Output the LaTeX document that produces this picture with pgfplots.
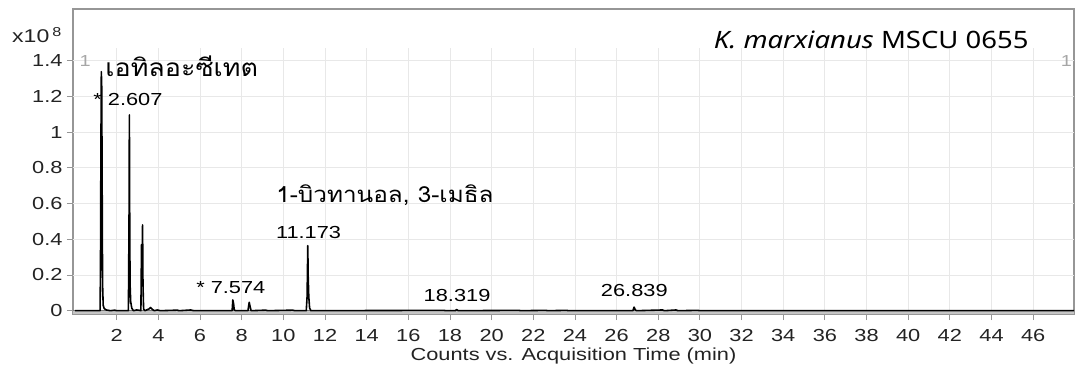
\documentclass[border=0pt]{standalone}
\usepackage{pgfplots}
\pgfplotsset{compat=1.18}
\usepackage{fontspec}
\setmainfont{Liberation Sans}[FakeStretch=1.25]
\newfontfamily\thaifont[Script=Thai,FakeStretch=1.1]{Loma}
\newfontfamily\titlefont[FakeStretch=1.15]{Noto Sans}
\definecolor{gridgray}{RGB}{232,232,232}
\definecolor{framegray}{RGB}{150,150,150}
\definecolor{txt}{RGB}{35,35,35}

% Total ion chromatogram, intensities in units of 10^8 counts
\pgfplotstableread{
t      c
0.00   0
1.20   0
1.22   0.25
1.24   0.90
1.26   1.338
1.28   1.25
1.30   0.70
1.32   0.15
1.35   0.03
1.40   0.012
1.50   0.004
1.70   0
1.90   0.003
2.00   0
2.56   0
2.59   0.50
2.607  1.096
2.62   0.60
2.64   0.15
2.67   0.05
2.72   0.015
2.80   0
2.95   0.004
3.05   0.003
3.16   0
3.19   0.37
3.21   0.22
3.24   0.48
3.26   0.15
3.29   0.01
3.35   0
3.55   0.01
3.62   0.018
3.70   0.008
3.80   0
3.95   0.004
4.10   0
4.90   0.003
5.00   0
5.55   0.004
5.70   0
7.54   0
7.574  0.060
7.61   0.040
7.64   0.005
7.70   0
8.30   0
8.36   0.047
8.40   0.025
8.45   0
9.15   0.003
9.25   0
10.45  0.003
10.55  0
11.10  0
11.14  0.08
11.173 0.364
11.19  0.20
11.22  0.08
11.26  0.015
11.32  0
17.70  0.002
17.80  0
18.25  0
18.319 0.006
18.40  0
21.30  0.002
21.40  0
22.60  0.002
22.70  0
23.60  0.002
23.70  0
26.78  0
26.839 0.020
26.90  0.004
26.96  0
28.20  0.004
28.30  0
28.85  0.004
28.95  0
29.90  0.002
30.00  0
47.96  0
}\tic

\begin{document}
\begin{tikzpicture}
\begin{axis}[
  scale only axis,
  width=1001bp, height=305bp,
  xmin=-0.1, xmax=47.96,
  ymin=-0.0185, ymax=1.689,
  clip=false,
  axis line style={framegray, line width=1.3bp},
  xtick={2,4,...,46},
  ytick={0,0.2,0.4,0.6,0.8,1,1.2,1.4},
  yticklabels={0,0.2,0.4,0.6,0.8,1,1.2,1.4},
  xtick pos=bottom, ytick pos=left,
  tick align=outside,
  major tick length=6bp,
  tick style={framegray, line width=0.9bp},
  /pgf/number format/assume math mode=true,
  ticklabel style={font=\fontsize{17.5}{20}\selectfont, text=txt},
  xticklabel style={yshift=-6bp},
  yticklabel style={xshift=-1bp},
  xlabel={Counts vs. Acquisition Time (min)},
  xlabel style={font=\fontsize{17.5}{20}\selectfont, text=txt, at={(axis description cs:0.5,0)}, anchor=base, yshift=-46bp},
]
% light grid, confined below the title band
\pgfplotsinvokeforeach{2,4,...,46}{
  \draw[gridgray, line width=0.9bp] (axis cs:#1,-0.0185) -- (axis cs:#1,1.47);
}
\pgfplotsinvokeforeach{0.2,0.4,0.6,0.8,1.0,1.2,1.4}{
  \draw[gridgray, line width=0.9bp] (axis cs:-0.1,#1) -- (axis cs:47.96,#1);
}
% baseline band
\fill[framegray!55] (axis cs:-0.1,-0.0185) rectangle (axis cs:47.96,0);
\draw[framegray!80!black, line width=1bp] (axis cs:-0.1,0) -- (axis cs:47.96,0);

\addplot[black, line width=1.6bp, line join=round] table[x=t, y=c] {\tic};

% peak annotations
\node[anchor=base west, inner sep=0pt, font=\thaifont\fontsize{24.5}{28}\selectfont] at (axis cs:1.45,1.31) {เอทิลอะซีเทต};
\node[anchor=base west, inner sep=0pt, font=\fontsize{17.5}{20}\selectfont] at (axis cs:0.87,1.146) {* 2.607};
\node[anchor=base west, inner sep=0pt, font=\fontsize{17.5}{20}\selectfont] at (axis cs:5.81,0.096) {* 7.574};
\node[anchor=base west, inner sep=0pt, font=\thaifont\fontsize{22.2}{26}\selectfont] at (axis cs:9.65,0.605) {1-บิวทานอล, 3-เมธิล};
\node[anchor=base, inner sep=0pt, font=\fontsize{17.5}{20}\selectfont] at (axis cs:11.21,0.405) {11.173};
\node[anchor=base, inner sep=0pt, font=\fontsize{17.5}{20}\selectfont] at (axis cs:18.34,0.05) {18.319};
\node[anchor=base, inner sep=0pt, font=\fontsize{17.5}{20}\selectfont] at (axis cs:26.85,0.078) {26.839};

% sample name, scale factor and trace markers
\node[anchor=base west, inner sep=0pt, font=\titlefont\fontsize{24}{28}\selectfont] at (axis cs:30.66,1.47) {{\itshape K. marxianus} MSCU 0655};
\node[anchor=base west, inner sep=0pt, font=\fontsize{18.5}{21}\selectfont, text=txt] at (axis cs:-3.03,1.499) {x10\,\textsuperscript{8}};
\node[anchor=base, inner sep=0pt, font=\fontsize{16}{18}\selectfont, text=gray!70] at (axis cs:0.48,1.365) {1};
\node[anchor=base, inner sep=0pt, font=\fontsize{16}{18}\selectfont, text=gray!70] at (axis cs:47.6,1.365) {1};
\end{axis}
\pgfresetboundingbox
\path (-73bp,-53bp) rectangle (1004bp,314bp);
\end{tikzpicture}
\end{document}
